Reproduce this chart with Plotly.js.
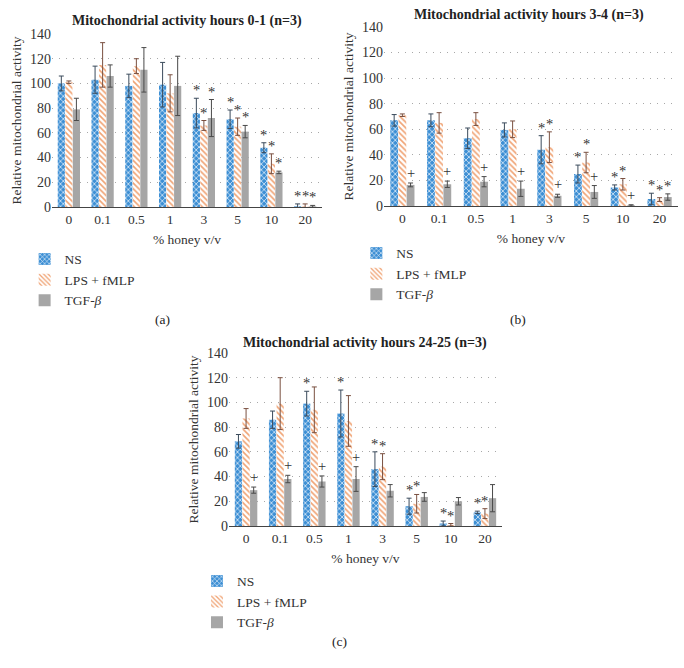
<!DOCTYPE html>
<html>
<head>
<meta charset="utf-8">
<script src="https://cdn.plot.ly/plotly-3.0.1.min.js"></script>
<style>html,body{margin:0;padding:0;background:#fff;}#chart{width:684px;height:668px;}</style>
</head>
<body>
<div id="chart"></div>
<script>
// ---------- data ----------
const categories = ['0', '0.1', '0.5', '1', '3', '5', '10', '20'];
const seriesNames = ['NS', 'LPS + fMLP', 'TGF-<i>β</i>'];

// Panel (a): hours 0-1
const a_NS = [100, 103, 98, 99, 76, 71, 48, 0.5];
const a_NS_err = [6, 11, 9.5, 18, 12, 7.5, 4, 2];
const a_LPS = [101, 115, 114, 92, 66, 65, 35, 0.5];
const a_LPS_err = [1, 18, 6, 15, 4, 7, 8, 2];
const a_TGF = [79, 106, 111, 98, 72, 61, 28, 0.5];
const a_TGF_err = [9, 9, 18, 24, 15, 5, 1, 0.8];
const a_sig_NS = ['', '', '', '', '*', '*', '*', '*'];
const a_sig_LPS = ['', '', '', '', '*', '*', '*', '*'];
const a_sig_TGF = ['', '', '', '', '*', '*', '*', '*'];

// Panel (b): hours 3-4
const b_NS = [67, 67, 53, 59.5, 44, 25, 14.5, 5.5];
const b_NS_err = [4.5, 5, 8, 5.5, 11, 7, 2, 4.5];
const b_LPS = [71, 65, 68, 60, 46, 34, 17, 5];
const b_LPS_err = [1, 8, 5, 6.5, 12, 8, 4.5, 1.5];
const b_TGF = [16.5, 17, 19, 13.5, 8, 11, 0.5, 7];
const b_TGF_err = [1.5, 2.5, 4, 6, 1.2, 5, 0.5, 2.5];
const b_sig_NS = ['', '', '', '', '*', '*', '*', '*'];
const b_sig_LPS = ['', '', '', '', '*', '*', '*', '*'];
const b_sig_TGF = ['+', '+', '+', '+', '+', '+', '+', '*'];

// Panel (c): hours 24-25
const c_NS = [68.5, 86, 99, 91, 46, 16, 2, 11];
const c_NS_err = [5.5, 7, 10, 19, 14, 6.5, 2, 1];
const c_LPS = [87, 99, 94, 85, 48, 18, 1, 10];
const c_LPS_err = [8, 21, 18.5, 20.5, 10.5, 7.5, 1, 4];
const c_TGF = [29, 38, 36, 38, 28.5, 23.5, 20, 22.5];
const c_TGF_err = [2.5, 3, 4.5, 10, 5, 3.5, 3, 11];
const c_sig_NS = ['', '', '*', '*', '*', '*', '*', '*'];
const c_sig_LPS = ['', '', '', '', '*', '*', '*', '*'];
const c_sig_TGF = ['+', '+', '+', '+', '', '', '', ''];

const titles = ['Mitochondrial activity hours 0-1 (n=3)', 'Mitochondrial activity hours 3-4 (n=3)', 'Mitochondrial activity hours 24-25 (n=3)'];
const panelLabels = ['(a)', '(b)', '(c)'];

// ---------- styling ----------
const FONT = 'Liberation Serif';
const BLUE = '#3d8fd4';
const ORANGE = '#f0a374';
const GRAY = '#a6a6a6';

const panels = [
  {ax: '', vals: [a_NS, a_LPS, a_TGF], errs: [a_NS_err, a_LPS_err, a_TGF_err], sig: [a_sig_NS, a_sig_LPS, a_sig_TGF], legend: 'legend'},
  {ax: '2', vals: [b_NS, b_LPS, b_TGF], errs: [b_NS_err, b_LPS_err, b_TGF_err], sig: [b_sig_NS, b_sig_LPS, b_sig_TGF], legend: 'legend2'},
  {ax: '3', vals: [c_NS, c_LPS, c_TGF], errs: [c_NS_err, c_LPS_err, c_TGF_err], sig: [c_sig_NS, c_sig_LPS, c_sig_TGF], legend: 'legend3'}
];

const markerStyles = [
  {color: BLUE, pattern: {shape: 'x', fillmode: 'replace', bgcolor: BLUE, fgcolor: '#ffffff', size: 4, solidity: 0.3}},
  {color: '#ffffff', pattern: {shape: '\\', fillmode: 'replace', bgcolor: '#ffffff', fgcolor: ORANGE, size: 4, solidity: 0.4}},
  {color: GRAY}
];
const errColors = ['#3b4b5c', '#7a5040', '#4a4a4a'];

const traces = [];
const annotations = [];
const bargap = 0.33;
const slot = (1 - bargap) / 3;

panels.forEach((p, pi) => {
  for (let s = 0; s < 3; s++) {
    const m = JSON.parse(JSON.stringify(markerStyles[s]));
    m.line = {width: 0};
    traces.push({
      type: 'bar',
      name: seriesNames[s],
      x: categories,
      y: p.vals[s],
      xaxis: 'x' + p.ax,
      yaxis: 'y' + p.ax,
      legend: p.legend,
      marker: m,
      error_y: {type: 'data', array: p.errs[s], visible: true, color: errColors[s], thickness: 1, width: 2.5},
      hoverinfo: 'y'
    });
    p.sig[s].forEach((t, ci) => {
      if (!t) return;
      annotations.push({
        xref: 'x' + p.ax, yref: 'y' + p.ax,
        x: ci + (s - 1) * slot,
        y: p.vals[s][ci] + p.errs[s][ci],
        text: t, showarrow: false, yanchor: 'bottom', yshift: t === '*' ? -2 : 0,
        font: {family: FONT, size: 14.5, color: '#333'}
      });
    });
  }
});

// Titles and panel labels
const titlePos = [[0.273, 0.968], [0.773, 0.978], [0.534, 0.487]];
const labelPos = [[0.238, 0.521], [0.757, 0.521], [0.497, 0.039]];
for (let i = 0; i < 3; i++) {
  annotations.push({xref: 'paper', yref: 'paper', x: titlePos[i][0], y: titlePos[i][1], text: '<b>' + titles[i] + '</b>', showarrow: false, font: {family: FONT, size: 14, color: '#222'}, xanchor: 'center', yanchor: 'middle'});
  annotations.push({xref: 'paper', yref: 'paper', x: labelPos[i][0], y: labelPos[i][1], text: panelLabels[i], showarrow: false, font: {family: FONT, size: 13.5, color: '#222'}, xanchor: 'center', yanchor: 'middle'});
}

function xax(domain, anchor) {
  return {
    domain: domain, anchor: anchor, type: 'category',
    showline: true, linecolor: '#444', linewidth: 1, ticks: '',
    showgrid: false, zeroline: false,
    tickfont: {family: FONT, size: 13.5, color: '#333'},
    title: {text: '% honey v/v', font: {family: FONT, size: 13.5, color: '#333'}, standoff: 8}
  };
}
function yax(domain, anchor) {
  return {
    domain: domain, anchor: anchor, range: [0, 140], dtick: 20,
    showline: false, ticks: '', zeroline: false,
    showgrid: true, gridcolor: '#a8a8a8', griddash: '1px,6px', gridwidth: 1,
    tickfont: {family: FONT, size: 14, color: '#333'},
    title: {text: 'Relative mitochondrial activity', font: {family: FONT, size: 13.5, color: '#333'}, standoff: 5}
  };
}
function leg(x, y) {
  return {x: x, y: y, xanchor: 'left', yanchor: 'top', bgcolor: 'rgba(0,0,0,0)',
    font: {family: FONT, size: 13.5, color: '#333'}, tracegroupgap: 0, itemwidth: 30, traceorder: 'normal'};
}

const layout = {
  width: 684, height: 668,
  margin: {l: 0, r: 0, t: 0, b: 0},
  font: {family: FONT, color: '#333'},
  paper_bgcolor: '#ffffff', plot_bgcolor: '#ffffff',
  barmode: 'group', bargap: bargap, bargroupgap: 0.05,
  showlegend: true,
  xaxis: xax([0.076, 0.4708], 'y'),
  yaxis: yax([0.6901, 0.9491], 'x'),
  xaxis2: xax([0.5614, 0.9912], 'y2'),
  yaxis2: yax([0.6916, 0.9596], 'x2'),
  xaxis3: xax([0.3348, 0.7339], 'y3'),
  yaxis3: yax([0.2126, 0.4716], 'x3'),
  legend: leg(0.036, 0.635),
  legend2: leg(0.521, 0.644),
  legend3: leg(0.288, 0.153),
  annotations: annotations
};

Plotly.newPlot('chart', traces, layout, {displayModeBar: false, staticPlot: true});
</script>
</body>
</html>
